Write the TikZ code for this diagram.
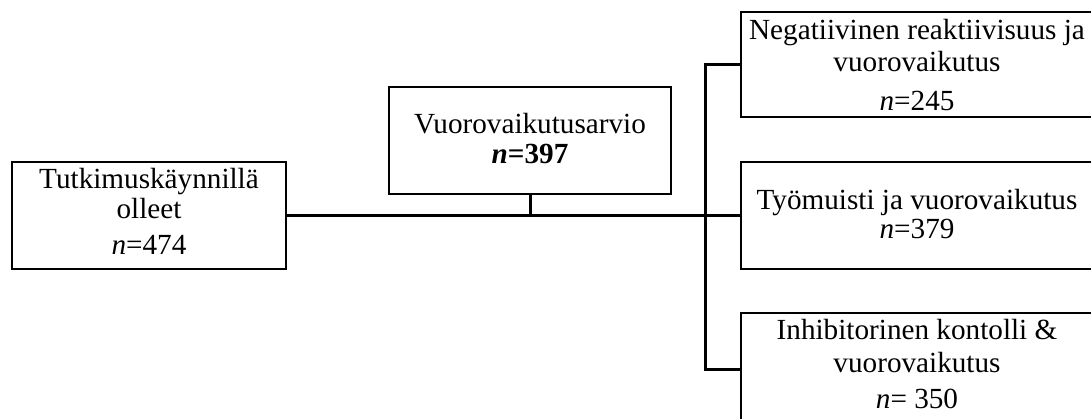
\documentclass[tikz,border=0pt]{standalone}
\usepackage{fontspec}
\setmainfont{Liberation Serif}
\begin{document}
\begin{tikzpicture}[x=0.5pt,y=-0.5pt,
  box/.style={draw, line width=1.3pt, inner sep=0pt, outer sep=0pt, fill=none},
  conn/.style={line width=1.5pt},
  txt/.style={anchor=base, inner sep=0pt, font=\fontsize{14.6}{17}\selectfont}]
\useasboundingbox (0,0) rectangle (1091,418);
% boxes
\node[box, minimum width=137pt, minimum height=53.5pt] (L) at (149,215.5) {};
\node[box, minimum width=141pt, minimum height=53.5pt] (C) at (530,140.5) {};
\node[box, minimum width=176pt, minimum height=52.5pt] (A) at (917,64.5) {};
\node[box, minimum width=176pt, minimum height=53.5pt] (B) at (917,215.5) {};
\node[box, minimum width=176pt, minimum height=56pt] (D) at (917,369) {};
% connectors
\coordinate (bus) at (705,215.5);
\draw[conn] (L.east) -- (bus);
\draw[conn] (C.south) -- (C.south |- bus);
\draw[conn] (A.west) -| (bus) |- (D.west);
\draw[conn] (bus) -- (B.west);
% texts
\node[txt] (l1) at (149,188) {Tutkimuskäynnillä};
\node[txt] (l2) at (149,218) {olleet};
\node[txt] (l3) at (149,254) {\textit{n}=474};
\node[txt] (c1) at (530,133) {Vuorovaikutusarvio};
\node[txt] (c2) at (530,163) {\textbf{\textit{n}=397}};
\node[txt] (a1) at (917,39) {Negatiivinen reaktiivisuus ja};
\node[txt] (a2) at (917,71) {vuorovaikutus};
\node[txt] (a3) at (917,110) {\textit{n}=245};
\node[txt] (b1) at (917,209) {Työmuisti ja vuorovaikutus};
\node[txt] (b2) at (917,238) {\textit{n}=379};
\node[txt] (d1) at (917,339) {Inhibitorinen kontolli \&};
\node[txt] (d2) at (917,372) {vuorovaikutus};
\node[txt] (d3) at (917,408) {\textit{n}= 350};
\end{tikzpicture}
\end{document}
